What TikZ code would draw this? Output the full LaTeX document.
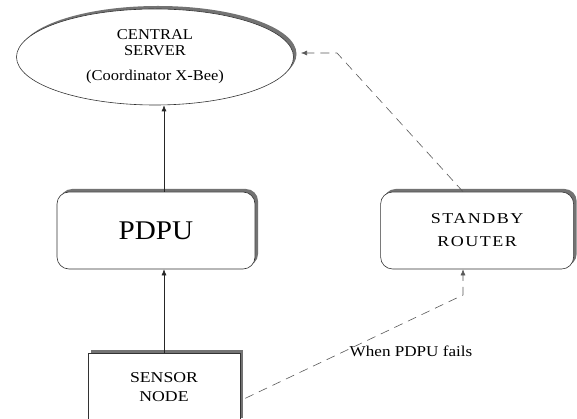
\documentclass[tikz,border=0pt]{standalone}
\usepackage{fontspec}
\setmainfont{Liberation Serif}
\usetikzlibrary{arrows.meta,positioning,shapes.geometric,shadows}

\begin{document}
\begin{tikzpicture}[x=1pt,y=-1pt,>={Latex[length=6pt,width=5pt]},font=\fontsize{15}{16}\selectfont\addfontfeatures{FakeStretch=1.1}]
  \tikzstyle{boxshadow}=[drop shadow={shadow xshift=3pt,shadow yshift=3pt,fill=black!55,opacity=1}]
  \tikzstyle{box}=[draw=black!80,line width=0.6pt,fill=white,boxshadow,align=center,inner sep=0pt]
  \tikzstyle{link}=[black!85,line width=0.6pt,->]
  \tikzstyle{backup}=[black!65,line width=0.6pt,dash pattern=on 9pt off 6pt,->]
  \clip (0,0) rectangle (577,419);
  \node[box,ellipse,minimum width=277pt,minimum height=96pt] (server) at (155,57) {CENTRAL\\SERVER\\[9pt](Coordinator X-Bee)};
  \node[box,rounded corners=12pt,minimum width=198pt,minimum height=77pt,font=\fontsize{27}{30}\selectfont\addfontfeatures{FakeStretch=1.08}] (pdpu) at (156,230.5) {PDPU};
  \node[box,rounded corners=12pt,minimum width=193pt,minimum height=77pt,right=125pt of pdpu,font=\fontsize{15}{16}\selectfont\addfontfeatures{FakeStretch=1.2,LetterSpace=10}] (standby) {STANDBY\\[7pt]ROUTER};
  \node[box,minimum width=152pt,minimum height=68pt,anchor=north,font=\fontsize{15}{16}\selectfont\addfontfeatures{FakeStretch=1.18}] (sensor) at (164,353) {SENSOR\\[3pt]NODE};
  \coordinate (bendlow) at (463,295);
  \coordinate (bendhigh) at (337,53);
  \coordinate (tiphigh) at (301,53);
  \draw[link] (sensor.north) -- (sensor.north |- pdpu.south);
  \draw[link] (sensor.north |- pdpu.north) -- (sensor.north |- server.south);
  \draw[backup] ([xshift=5pt,yshift=-11pt]sensor.east) -- (bendlow) -- (bendlow |- standby.south);
  \draw[backup] (bendlow |- standby.north) -- (bendhigh) -- (tiphigh);
  \node[font=\fontsize{15}{16}\selectfont\addfontfeatures{FakeStretch=1.14}] (fails) at (411,351) {When PDPU fails};
\end{tikzpicture}
\end{document}
